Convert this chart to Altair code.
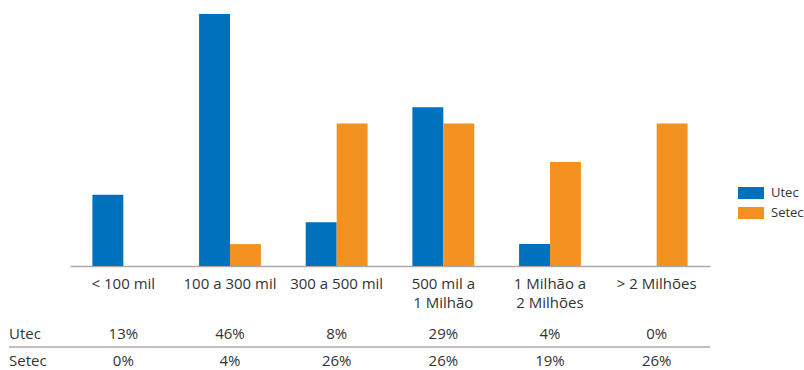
import altair as alt
import pandas as pd

categories = ["< 100 mil", "100 a 300 mil", "300 a 500 mil",
              "500 mil a 1 Milhão", "1 Milhão a 2 Milhões", "> 2 Milhões"]
series = ["Utec", "Setec"]
utec = [13, 46, 8, 29, 4, 0]
setec = [0, 4, 26, 26, 19, 26]

rows = []
for c, u, s in zip(categories, utec, setec):
    rows.append({"category": c, "series": "Utec", "value": u})
    rows.append({"category": c, "series": "Setec", "value": s})
df = pd.DataFrame(rows)

BLUE = "#0071BC"
ORANGE = "#F39221"
TXT = "#333333"
FONT = "Open Sans"
FS = 15
H = 252
W = 640

label_expr = ("datum.label == '500 mil a 1 Milhão' ? ['500 mil a', '1 Milhão'] : "
              "datum.label == '1 Milhão a 2 Milhões' ? ['1 Milhão a', '2 Milhões'] : datum.label")

xenc = alt.X("category:N", sort=categories, title=None,
             scale=alt.Scale(paddingInner=0.42, paddingOuter=0.21),
             axis=alt.Axis(labelAngle=0, ticks=False, domainColor="#aaaaaa", domainWidth=1.5,
                           labelFontSize=FS, labelColor=TXT, labelFont=FONT,
                           labelPadding=10, labelLineHeight=19, labelExpr=label_expr))

base = alt.Chart(df)

bars = base.mark_bar().encode(
    x=xenc,
    xOffset=alt.XOffset("series:N", sort=series),
    y=alt.Y("value:Q", scale=alt.Scale(domain=[0, 46], nice=False, zero=True), axis=None),
    color=alt.Color("series:N", sort=series,
                    scale=alt.Scale(domain=series, range=[BLUE, ORANGE]),
                    legend=alt.Legend(title=None, orient="none", legendX=668, legendY=166,
                                      symbolType="M-1,-0.46H1V0.46H-1Z", symbolSize=676,
                                      symbolStrokeWidth=0, labelFontSize=13, labelColor=TXT,
                                      labelFont=FONT, labelOffset=7, rowPadding=0, padding=0)),
)

row_y = {"Utec": H + 68, "Setec": H + 95}

layers = [bars]
for s in series:
    layers.append(
        base.transform_filter(alt.datum.series == s)
        .transform_calculate(lab="datum.value + '%'")
        .mark_text(fontSize=FS, font=FONT, color=TXT, baseline="middle")
        .encode(x=alt.X("category:N", sort=categories), text="lab:N", y=alt.value(row_y[s]))
    )
    layers.append(
        alt.Chart(alt.Data(values=[{"s": s}]))
        .mark_text(fontSize=FS, font=FONT, color=TXT, baseline="middle", align="left")
        .encode(text="s:N", x=alt.value(-61), y=alt.value(row_y[s]))
    )

sep = alt.Chart(alt.Data(values=[{"a": 1}])).mark_rule(color="#aaaaaa", strokeWidth=1.5).encode(
    x=alt.value(-61), x2=alt.value(W), y=alt.value(H + 81))
layers.append(sep)

chart = alt.layer(*layers).properties(
    width=W, height=H, padding={"left": 8, "top": 14, "right": 0, "bottom": 0}
).configure_view(stroke=None)

chart.save("out.html", embed_options={"renderer": "svg", "actions": False})
